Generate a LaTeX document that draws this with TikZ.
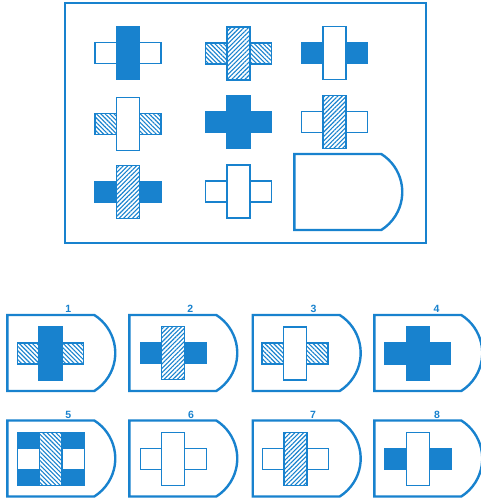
\documentclass[tikz,border=0pt]{standalone}
\usepackage{fontspec}
\setmainfont{Liberation Sans}
\usetikzlibrary{patterns.meta}
\definecolor{bl}{RGB}{24,130,206}
\tikzset{
  wh/.style={draw=bl,fill=white,line width=1.3pt},
  bf/.style={draw=bl,fill=bl,line width=1.3pt},
  hne/.style={draw=bl,line width=1.3pt,preaction={fill=white},
     pattern={Lines[angle=45,distance=3.1pt,line width=1.1pt]},pattern color=bl},
  hnw/.style={draw=bl,line width=1.3pt,preaction={fill=white},
     pattern={Lines[angle=-45,distance=3.1pt,line width=1.1pt]},pattern color=bl},
  shieldst/.style={draw=bl,line width=2.4pt,line join=miter},
  lbl/.style={text=bl,font=\fontsize{10.5}{12}\selectfont\bfseries,inner sep=0pt}
}
\newcommand\mycross[4]{%
  \draw[#3] ({#1-33},{#2-10.5}) rectangle ({#1+33},{#2+10.5});
  \draw[#4] ({#1-11.5},{#2-26.5}) rectangle ({#1+11.5},{#2+26.5});
}
\newcommand\myshield[2]{%
  \draw[shieldst] (#1,#2) -- ({#1+87},#2) arc[start angle=57.8,end angle=-57.8,radius=44.9pt] -- (#1,{#2+76}) -- cycle;
}
\begin{document}
\begin{tikzpicture}[x=1pt,y=-1pt]
\useasboundingbox[fill=white] (0,0) rectangle (480,504);
% question frame
\draw[draw=bl,line width=2.7pt] (65,3) rectangle (426,243);
% row 1
\mycross{128}{53}{wh}{bf}
\mycross{238.5}{53.5}{hnw}{hne}
\mycross{334.5}{53}{bf}{wh}
% row 2
\mycross{128}{124}{hnw}{wh}
\mycross{238.5}{122}{bf}{bf}
\mycross{334.5}{122}{wh}{hne}
% row 3
\mycross{128}{192}{bf}{hne}
\mycross{238.5}{191.5}{wh}{wh}
\myshield{294.3}{154}
% answer options
\myshield{7.3}{315}
\myshield{129.3}{315}
\myshield{252.7}{315}
\myshield{374.3}{315}
\myshield{7.3}{420.5}
\myshield{129.3}{420.5}
\myshield{252.7}{420.5}
\myshield{374.3}{420.5}
\node[lbl] (l1) at (68.3,309) {1};
\node[lbl] (l2) at (190.3,309) {2};
\node[lbl] (l3) at (313.5,309) {3};
\node[lbl] (l4) at (436.5,309) {4};
\node[lbl] (l5) at (68.3,415) {5};
\node[lbl] (l6) at (191,415) {6};
\node[lbl] (l7) at (313,415) {7};
\node[lbl] (l8) at (437,415) {8};
\mycross{50.5}{353.5}{hnw}{bf}
\mycross{173.3}{353}{bf}{hne}
\mycross{295}{353.5}{hnw}{wh}
\mycross{417.7}{353.5}{bf}{bf}
% option 5
\fill[bl] (17.3,432.3) rectangle (84.3,485.7);
\fill[white] (17.3,449.3) rectangle (84.3,469);
\draw[hnw] (39.5,432.3) rectangle (62,485.7);
\draw[draw=bl,line width=1.3pt] (17.3,432.3) rectangle (84.3,485.7);
\mycross{173.3}{459.2}{wh}{wh}
\mycross{295.5}{459.2}{wh}{hne}
\mycross{418}{459.2}{bf}{wh}
\end{tikzpicture}
\end{document}
